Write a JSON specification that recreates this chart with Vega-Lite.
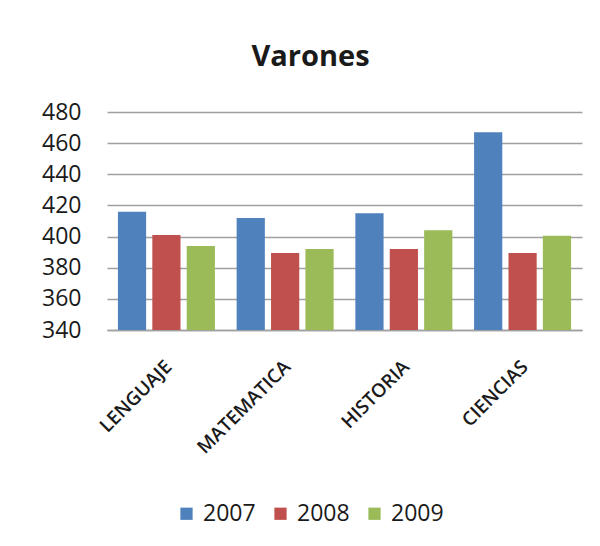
{
  "$schema": "https://vega.github.io/schema/vega-lite/v6.json",
  "width": 475,
  "height": 218,
  "autosize": {"type": "none"},
  "padding": {"left": 107, "top": 112, "right": 18, "bottom": 216},
  "background": "white",
  "title": {"text": "Varones", "fontSize": 29, "font": "Open Sans", "fontWeight": "bold", "color": "#1a1a1a", "anchor": "middle", "dx": -34, "offset": 29},
  "data": {"values": [
    {"materia": "LENGUAJE", "año": "2007", "puntaje": 416},
    {"materia": "LENGUAJE", "año": "2008", "puntaje": 401},
    {"materia": "LENGUAJE", "año": "2009", "puntaje": 394},
    {"materia": "MATEMATICA", "año": "2007", "puntaje": 412},
    {"materia": "MATEMATICA", "año": "2008", "puntaje": 389.5},
    {"materia": "MATEMATICA", "año": "2009", "puntaje": 392},
    {"materia": "HISTORIA", "año": "2007", "puntaje": 415},
    {"materia": "HISTORIA", "año": "2008", "puntaje": 392},
    {"materia": "HISTORIA", "año": "2009", "puntaje": 404},
    {"materia": "CIENCIAS", "año": "2007", "puntaje": 467},
    {"materia": "CIENCIAS", "año": "2008", "puntaje": 389.5},
    {"materia": "CIENCIAS", "año": "2009", "puntaje": 400.5}
  ]},
  "mark": {"type": "bar", "clip": true},
  "encoding": {
    "x": {"field": "materia", "type": "nominal", "sort": null,
      "scale": {"paddingInner": 0.183, "paddingOuter": 0.092},
      "axis": {"title": null, "labelAngle": -45, "labelFont": "Open Sans", "labelFontSize": 19, "labelFontWeight": 600, "labelColor": "#1a1a1a", "ticks": false, "domainColor": "#a0a0a0", "domainWidth": 1.5, "labelPadding": 27, "labelOffset": -4}},
    "xOffset": {"field": "año", "type": "nominal", "scale": {"paddingInner": 0.18}},
    "y": {"field": "puntaje", "type": "quantitative",
      "scale": {"domain": [340, 480], "zero": false, "nice": false},
      "axis": {"title": null, "values": [340, 360, 380, 400, 420, 440, 460, 480], "labelFont": "Open Sans", "labelFontSize": 23, "labelColor": "#1a1a1a", "ticks": false, "domain": false, "gridColor": "#a0a0a0", "gridWidth": 1.5, "labelPadding": 26}},
    "color": {"field": "año", "type": "nominal",
      "scale": {"domain": ["2007", "2008", "2009"], "range": ["#4F81BD", "#C0504D", "#9BBB59"]},
      "legend": {"title": null, "orient": "none", "direction": "horizontal", "legendX": 68, "legendY": 390, "symbolType": "square", "symbolSize": 150, "symbolStrokeWidth": 0, "labelFont": "Open Sans", "labelFontSize": 23, "labelColor": "#1a1a1a", "columnPadding": 13, "labelOffset": 5}}
  },
  "config": {"view": {"stroke": null}}
}
